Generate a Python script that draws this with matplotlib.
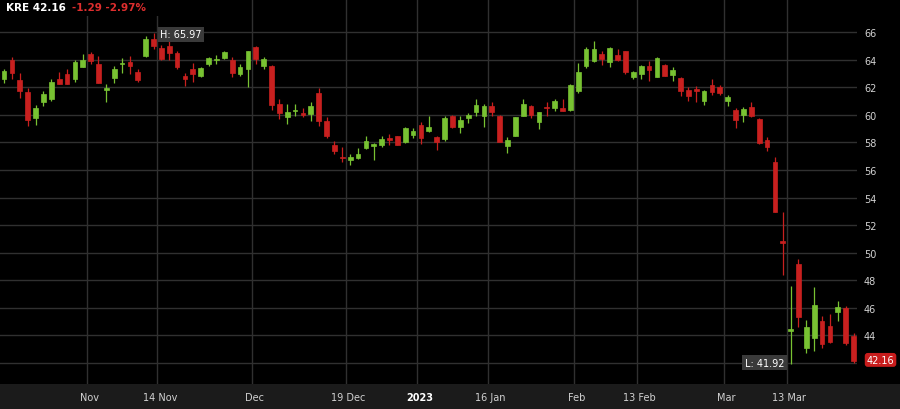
import matplotlib
matplotlib.use("Agg")
import matplotlib.pyplot as plt
import numpy as np
import pandas as pd
from matplotlib.patches import Rectangle

# ---------------- data ----------------
holidays = ["2022-11-24", "2022-12-26", "2023-01-02", "2023-01-16", "2023-02-20"]
dates = [d for d in pd.bdate_range("2022-10-17", "2023-03-23")
         if d.strftime("%Y-%m-%d") not in holidays]

opens = [62.63, 63.98, 62.53, 61.66, 59.81, 60.94, 61.13, 62.58, 62.99, 62.58, 63.49,
         64.46, 63.73, 61.83, 62.70, 63.70, 63.86, 63.11, 64.31, 65.52, 64.87, 64.99,
         64.47, 62.85, 63.33, 62.85, 63.70, 64.00, 64.13, 63.99, 62.97, 63.33,
         64.96, 63.58, 63.58, 60.79, 59.87, 60.25, 60.11, 60.07, 61.57, 59.53, 57.84, 56.97,
         56.72, 56.84, 57.57, 57.77, 57.84, 58.30, 58.44, 58.01, 58.57,
         59.26, 58.81, 58.37, 58.25, 59.89, 59.09, 59.77, 60.23, 59.89,
         60.67, 59.94, 57.77, 58.49, 59.94, 60.67, 59.51, 60.60, 60.50, 60.50, 60.36,
         61.71, 63.58, 63.94, 64.42, 63.82, 64.35, 64.62, 62.78,
         62.97, 63.58, 62.78, 63.65, 62.92, 62.68, 61.81, 61.88, 61.03, 62.20, 62.00,
         61.03, 60.36, 60.02, 60.55, 59.70, 58.18, 56.55, 50.82,
         44.28, 49.17, 43.07, 43.80, 45.05, 44.69, 45.71, 45.95, 43.93]
highs = [63.35, 64.22, 63.06, 61.98, 60.70, 61.71, 62.58, 63.11, 63.35, 63.98, 64.39,
         64.55, 64.27, 62.27, 63.54, 64.14, 64.31, 63.35, 65.71, 65.97, 65.11, 65.35,
         64.62, 63.02, 63.74, 63.46, 64.18, 64.38, 64.67, 64.23, 63.70, 64.67,
         65.03, 64.18, 63.65, 61.15, 60.79, 60.79, 60.50, 60.91, 61.93, 59.87, 58.13, 57.65,
         57.16, 57.60, 58.49, 57.94, 58.44, 58.61, 58.49, 59.09, 59.02,
         59.51, 59.94, 58.49, 59.89, 59.99, 59.89, 60.14, 61.15, 60.79,
         60.91, 59.99, 58.37, 59.87, 61.15, 60.72, 60.23, 60.91, 61.16, 61.16, 62.25,
         63.75, 64.91, 65.39, 64.67, 64.96, 64.79, 64.67, 63.21,
         63.62, 63.89, 64.23, 63.70, 63.46, 62.78, 62.00, 62.12, 61.81, 62.61, 62.20,
         61.45, 60.50, 60.55, 60.91, 59.77, 58.37, 56.92, 52.92,
         47.55, 49.53, 45.10, 47.48, 45.41, 45.53, 46.46, 46.15, 44.17]
lows = [62.29, 62.58, 61.25, 59.20, 59.25, 60.65, 61.01, 62.22, 62.22, 62.39, 63.45,
        63.71, 62.29, 60.94, 62.29, 63.06, 62.99, 62.41, 64.22, 64.80, 64.02, 64.02,
        63.33, 62.12, 62.37, 62.73, 63.58, 63.70, 64.06, 62.78, 62.85, 62.00,
        63.70, 63.33, 60.36, 59.70, 59.34, 59.94, 59.82, 59.53, 59.22, 58.32, 57.16, 56.56,
        56.36, 56.80, 57.52, 56.75, 57.64, 57.81, 57.81, 57.96, 58.30,
        57.89, 58.73, 57.48, 58.13, 59.02, 58.68, 59.41, 59.94, 59.14,
        59.94, 58.01, 57.23, 58.44, 59.89, 59.75, 58.97, 59.89, 60.31, 60.26, 60.26,
        61.57, 63.38, 63.82, 63.62, 63.50, 63.89, 62.97, 62.61,
        62.61, 62.49, 62.73, 62.80, 62.49, 61.40, 61.03, 60.91, 60.74, 61.47, 61.47,
        60.67, 59.05, 59.46, 59.82, 57.89, 57.35, 52.92, 48.40,
        41.92, 44.57, 42.68, 42.88, 43.07, 43.41, 45.05, 43.31, 41.99]
closes = [63.18, 63.06, 61.73, 59.64, 60.48, 61.49, 62.41, 62.27, 62.27, 63.86, 63.98,
          63.95, 62.34, 61.95, 63.35, 63.80, 63.54, 62.51, 65.52, 64.99, 64.07, 64.51,
          63.46, 62.61, 62.97, 63.38, 64.11, 64.08, 64.55, 63.02, 63.50, 64.62,
          64.06, 64.06, 60.74, 60.11, 60.19, 60.37, 60.02, 60.67, 59.58, 58.49, 57.40, 56.88,
          56.92, 57.16, 58.13, 57.89, 58.25, 58.16, 57.84, 59.02, 58.80,
          58.30, 59.14, 58.01, 59.75, 59.09, 59.65, 60.02, 60.74, 60.67,
          60.18, 58.05, 58.20, 59.82, 60.79, 59.99, 60.18, 60.48, 60.99, 60.31, 62.20,
          63.09, 64.79, 64.79, 64.06, 64.86, 63.99, 63.09, 63.09,
          63.58, 63.26, 64.13, 62.85, 63.29, 61.71, 61.40, 61.72, 61.76, 61.64, 61.57,
          61.28, 59.63, 60.43, 59.94, 57.94, 57.70, 52.97, 50.70,
          44.42, 45.35, 44.62, 46.22, 43.36, 43.48, 46.07, 43.45, 42.16]

xtick_labels = ["Nov", "14 Nov", "Dec", "19 Dec", "2023", "16 Jan", "Feb", "13 Feb", "Mar", "13 Mar"]
xtick_dates = ["2022-11-01", "2022-11-14", "2022-12-01", "2022-12-19", "2023-01-03",
               "2023-01-16", "2023-02-01", "2023-02-13", "2023-03-01", "2023-03-13"]
ytick_values = list(range(42, 67, 2))

ticker = "KRE"
last_price = "42.16"
change_text = "-1.29 -2.97%"
high_text = "H: 65.97"
low_text = "L: 41.92"

# ---------------- style ----------------
GREEN = "#78c232"
RED = "#c8201f"
GRID = "#303030"
TXT = "#d2d2d2"

o = np.array(opens); h = np.array(highs); l = np.array(lows); c = np.array(closes)
x = np.arange(len(dates))
cols = np.where(c >= o, GREEN, RED)

fig = plt.figure(figsize=(9, 4.1), dpi=100, facecolor="black")
# bottom date bar (behind the axes)
fig.patches.append(Rectangle((0, 0), 1, 25 / 410, transform=fig.transFigure,
                             facecolor="#1b1b1b", edgecolor="none", zorder=-5))

ax = fig.add_axes([0, 25 / 410, 857 / 900, 385 / 410])
ax.set_facecolor("black")
for s in ax.spines.values():
    s.set_visible(False)

ax.set_xlim(-0.52, 108.44)
ax.set_ylim(40.46, 68.42)

# grid
date_str = [d.strftime("%Y-%m-%d") for d in dates]
tick_idx = [next(i for i, d in enumerate(date_str) if d >= td) for td in xtick_dates]
for ti in tick_idx:
    ax.axvline(ti - 0.5, color=GRID, lw=1.0, zorder=0)
for yv in ytick_values:
    ax.axhline(yv, color=GRID, lw=1.0, zorder=0)

# candles
ax.vlines(x, l, h, colors=cols, lw=0.9, zorder=2)
ax.bar(x, np.abs(c - o), bottom=np.minimum(o, c), width=0.6, color=cols,
       edgecolor=cols, linewidth=0.5, zorder=3)

# y ticks on right
ax.yaxis.tick_right()
ax.set_yticks(ytick_values)
ax.set_yticklabels(["" if v == 42 else str(v) for v in ytick_values])
ax.tick_params(axis="y", length=0, pad=5, labelsize=7, labelcolor=TXT)

# x ticks
ax.set_xticks([ti - 0.2 for ti in tick_idx])
ax.set_xticklabels(xtick_labels)
ax.tick_params(axis="x", length=0, pad=6, labelsize=7, labelcolor=TXT)
for lab in ax.get_xticklabels():
    if lab.get_text() == "2023":
        lab.set_fontweight("bold")
        lab.set_color("white")

# header
fig.patches.append(Rectangle((0, 1 - 17 / 410), 165 / 900, 17 / 410, transform=fig.transFigure,
                             facecolor="black", edgecolor="none", zorder=5))
fig.text(6 / 900, 1 - 8 / 410, f"{ticker} {last_price}", color="white", fontsize=7.5,
         fontweight="bold", va="center", ha="left", zorder=6)
fig.text(72.5 / 900, 1 - 8 / 410, change_text, color="#dd2e2e", fontsize=7.5,
         fontweight="bold", va="center", ha="left", zorder=6)

# high / low labels
ih = int(np.argmax(h)); il = int(np.argmin(l))
ax.text(ih + 0.85, h[ih] - 0.12, high_text, color="white", fontsize=7, ha="left", va="center",
        bbox=dict(boxstyle="square,pad=0.25", facecolor="#3a3a3a", edgecolor="none"), zorder=6)
ax.text(il - 0.82, l[il] + 0.1, low_text, color="white", fontsize=7, ha="right", va="center",
        bbox=dict(boxstyle="square,pad=0.25", facecolor="#3a3a3a", edgecolor="none"), zorder=6)

# last price tag
ax.annotate(last_price, xy=(1, c[-1] + 0.05), xycoords=("axes fraction", "data"),
            xytext=(7, 0), textcoords="offset points", color="white", fontsize=7,
            ha="left", va="center", annotation_clip=False,
            bbox=dict(boxstyle="round,pad=0.2,rounding_size=0.3", facecolor="#c81c1c",
                      edgecolor="none"))

fig.savefig("out.png", dpi=100, facecolor="black")
